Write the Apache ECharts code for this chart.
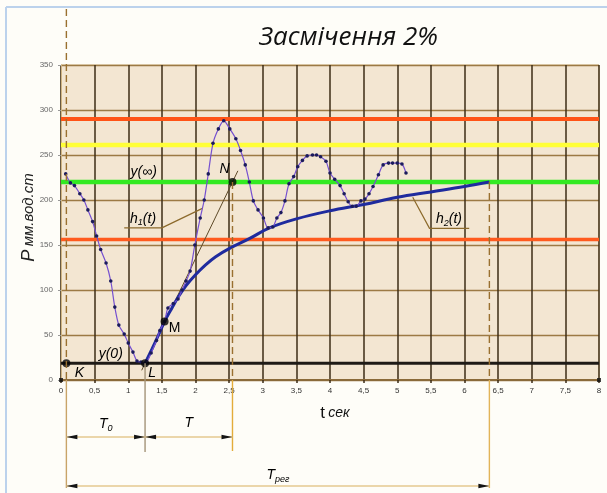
<!DOCTYPE html>
<html>
<head>
<meta charset="utf-8">
<script src="https://cdn.jsdelivr.net/npm/echarts/dist/echarts.min.js"></script>
<style>
  html, body { margin: 0; padding: 0; background: #fefdf8; }
  #c { width: 607px; height: 493px; }
</style>
</head>
<body>
<div id="c"></div>
<script>
// Measured pressure, t (s) and P (мм вод. ст.)
const pressureT = [0.07,0.14,0.20,0.28,0.34,0.40,0.47,0.53,0.59,0.67,0.74,0.80,0.86,0.94,1.00,1.07,1.13,1.19,1.25,
  1.34,1.42,1.47,1.54,1.59,1.67,1.74,1.80,1.86,1.92,1.99,2.07,2.13,2.19,2.26,2.34,2.42,2.51,2.60,2.67,2.74,2.80,
  2.86,2.93,3.01,3.08,3.15,3.21,3.27,3.33,3.39,3.46,3.52,3.59,3.66,3.74,3.80,3.86,3.94,4.00,4.07,4.15,4.21,4.27,
  4.33,4.39,4.46,4.52,4.58,4.64,4.72,4.79,4.87,4.93,5.00,5.07,5.13];
const pressureP = [229,219,216,207,200,189,176,160,145,130,110,81,61,51,41,31,21,20,18.5,
  30,44,55,65,80,85,90,100,110,121,150,180,200,229,263,279,288,279,268,255,239,220,
  199,189,180,169,170,180,186,199,218,226,237,244,249,250,250,248,243,230,223,216,207,198,
  193,193,199,201,207,215,228,239,241,241,241,240,230];

// Approximating transient response h2(t)
const responseT = [1.25,1.35,1.45,1.54,1.65,1.75,1.86,2.0,2.15,2.3,2.5,2.8,3.1,3.5,4.0,4.5,5.0,5.5,6.0,6.37];
const responseP = [18.5,34,50,65,80,93,105,117,128,137,146,157,169,179,188,195,203,209,215,220];

// Horizontal reference levels
const levelValues = [290, 261, 220, 156, 18.5];
const levelColors = ['#ff5316', '#ffff38', '#33ea22', '#ff5a1e', '#1e1a16'];
const levelWidths = [4, 4.5, 4.5, 3.5, 3];

// Key points K, L, M, N
const keyNames = ['K', 'L', 'M', 'N'];
const keyT = [0.08, 1.25, 1.54, 2.55];
const keyP = [18.5, 18.5, 65, 220];

// Axis ticks
const xMin = 0, xMax = 8, xStep = 0.5;
const yMin = 0, yMax = 350, yStep = 50;

const settleT = responseT[responseT.length - 1];
const settleP = responseP[responseP.length - 1];

const pairs = (xs, ys) => xs.map((x, i) => [x, ys[i]]);

const chart = echarts.init(document.getElementById('c'), null, { renderer: 'canvas' });

const FONT = 'Liberation Sans';

const series = [];
levelValues.forEach((v, i) => {
  series.push({
    type: 'line', silent: true, symbol: 'none', z: 3,
    data: [[xMin, v], [xMax, v]],
    lineStyle: { color: levelColors[i], width: levelWidths[i] }
  });
});

// tangent through L and N, drawn slightly past both points
const kL = 1, kN = 3;
const slope = (keyP[kN] - keyP[kL]) / (keyT[kN] - keyT[kL]);
const tanA = keyT[kL] - 0.05, tanB = keyT[kN] + 0.08;
series.push({
  type: 'line', silent: true, symbol: 'none', z: 4,
  data: [[tanA, keyP[kL] + slope * (tanA - keyT[kL])], [tanB, keyP[kL] + slope * (tanB - keyT[kL])]],
  lineStyle: { color: '#5e4a28', width: 1 }
});

// leaders for h1(t) and h2(t)
series.push({
  type: 'line', silent: true, symbol: 'none', z: 4,
  data: [[0.94, 169], [1.5, 169], [2.11, 191]],
  lineStyle: { color: '#8c6a2c', width: 1.2 }
});
series.push({
  type: 'line', silent: true, symbol: 'none', z: 4,
  data: [[5.23, 203], [5.48, 168.5], [6.07, 168.5]],
  lineStyle: { color: '#8c6a2c', width: 1.2 }
});

// h2(t)
series.push({
  type: 'line', silent: true, symbol: 'none', smooth: 0.4, z: 5,
  data: pairs(responseT, responseP),
  lineStyle: { color: '#1f2b9e', width: 3 }
});

// measured pressure
series.push({
  type: 'line', silent: true, smooth: 0.3, z: 6,
  symbol: 'circle', symbolSize: 3.6,
  data: pairs(pressureT, pressureP),
  lineStyle: { color: '#7550d0', width: 1.2 },
  itemStyle: { color: '#1b1b5c' }
});

// key points
series.push({
  type: 'scatter', silent: true, z: 7, symbolSize: 8,
  data: pairs(keyT, keyP),
  itemStyle: { color: '#050505' }
});
// axis end markers
series.push({
  type: 'scatter', silent: true, z: 7, symbol: 'rect', symbolSize: 4,
  data: [[xMin, yMin], [xMax, yMin]],
  itemStyle: { color: '#111' }
});

chart.setOption({
  backgroundColor: '#fefdf8',
  animation: false,
  title: {
    text: 'Засмічення 2%',
    left: 254, top: 20,
    textStyle: { fontFamily: 'Open Sans', fontStyle: 'italic', fontWeight: 'normal', fontSize: 26, color: '#111' }
  },
  grid: {
    left: 61, right: 8, top: 65, bottom: 113,
    show: true, backgroundColor: '#f3e6d2', borderColor: '#d9bf8c', borderWidth: 1
  },
  xAxis: {
    type: 'value', min: xMin, max: xMax, interval: xStep,
    name: '{t|t} {s|сек}', nameLocation: 'middle', nameGap: 25,
    nameTextStyle: { padding: [0, 0, 0, 10], rich: {
      t: { fontFamily: FONT, fontSize: 17, color: '#111' },
      s: { fontFamily: FONT, fontSize: 14, fontStyle: 'italic', color: '#111' }
    } },
    axisLine: { show: true, onZero: false, lineStyle: { color: '#8a6a3a', width: 2 } },
    axisTick: { show: true, length: 3, lineStyle: { color: '#3a2a14', width: 1.5 } },
    axisLabel: { fontFamily: FONT, fontSize: 8, color: '#333', margin: 7,
      formatter: v => String(v).replace('.', ',') },
    splitLine: { show: true, lineStyle: { color: '#3c2c16', width: 1.5 } }
  },
  yAxis: {
    type: 'value', min: yMin, max: yMax, interval: yStep,
    name: '{p|P} {m|мм.вод.ст}', nameLocation: 'middle', nameGap: 23, nameRotate: 90,
    nameMoveOverlap: false,
    nameTextStyle: { padding: [0, 0, 0, 10], rich: {
      p: { fontFamily: FONT, fontSize: 18, fontStyle: 'italic', color: '#222' },
      m: { fontFamily: FONT, fontSize: 15, fontStyle: 'italic', color: '#222' }
    } },
    axisLine: { show: true, lineStyle: { color: '#cfb483', width: 1 } },
    axisTick: { show: true, length: 3, lineStyle: { color: '#999' } },
    axisLabel: { fontFamily: FONT, fontSize: 8, color: '#666', margin: 8 },
    splitLine: { show: true, lineStyle: { color: '#9c7a45', width: 1.3 } }
  },
  series: series
});

// Annotations placed through the chart's coordinate system
const px = (t, p) => chart.convertToPixel({ gridIndex: 0 }, [t, p]);
const axisY = px(0, yMin)[1];
const g = [];

// page frame
g.push({ type: 'line', shape: { x1: 6, y1: 7, x2: 607, y2: 7 }, style: { stroke: '#bcd2ec', lineWidth: 2 }, z: 1 });
g.push({ type: 'line', shape: { x1: 6, y1: 7, x2: 6, y2: 493 }, style: { stroke: '#bcd2ec', lineWidth: 2 }, z: 1 });

const dashed = (x, y1, y2) => g.push({ type: 'line', z: 50, shape: { x1: x, y1: y1, x2: x, y2: y2 },
  style: { stroke: '#9a7030', lineWidth: 1.4, lineDash: [7, 4] } });
const solid = (x, y1, y2, c) => g.push({ type: 'line', z: 50, shape: { x1: x, y1: y1, x2: x, y2: y2 },
  style: { stroke: c, lineWidth: 1.4 } });

const xK = px(keyT[0], 0)[0];
const xL = px(keyT[1], 0)[0];
const xN = px(keyT[3], 0)[0];
const xS = px(settleT, 0)[0];
const dimY1 = 437, dimY2 = 486;

dashed(xK, 9, axisY);
solid(xK, axisY, dimY2 + 2, '#c9a468');
solid(xL, px(keyT[1], keyP[1])[1], dimY1 + 15, '#a39478');
dashed(xN, px(keyT[3], keyP[3])[1], axisY);
solid(xN, axisY, dimY1 + 14, '#e3ac3a');
dashed(xS, px(settleT, settleP)[1], axisY);
solid(xS, axisY, dimY2 + 2, '#e2b458');

const dim = (xa, xb, y) => {
  g.push({ type: 'line', z: 50, shape: { x1: xa, y1: y, x2: xb, y2: y }, style: { stroke: '#e4c890', lineWidth: 1.6 } });
  g.push({ type: 'polygon', z: 51, shape: { points: [[xa, y], [xa + 11, y - 2.3], [xa + 11, y + 2.3]] }, style: { fill: '#141414' } });
  g.push({ type: 'polygon', z: 51, shape: { points: [[xb, y], [xb - 11, y - 2.3], [xb - 11, y + 2.3]] }, style: { fill: '#141414' } });
};
dim(xK, xL, dimY1);
dim(xL, xN, dimY1);
dim(xK, xS, dimY2);

const richBase = {
  i: { fontFamily: FONT, fontStyle: 'italic', fontSize: 14, color: '#1a1a1a' },
  u: { fontFamily: FONT, fontSize: 14, color: '#1a1a1a' },
  s: { fontFamily: FONT, fontStyle: 'italic', fontSize: 9, color: '#1a1a1a', padding: [8, 0, 0, 0] }
};
const label = (x, y, text, align) => g.push({
  type: 'text', z: 60, x: x, y: y,
  style: { text: text, rich: richBase, align: align || 'center', verticalAlign: 'middle' }
});

label((xK + xL) / 2, 424, '{i|T}{s|0}');
label((xL + xN) / 2, 423, '{i|T}');
label((xK + xS) / 2, 475, '{i|T}{s|рег}');

// point and curve labels
const pK = px(keyT[0], keyP[0]), pL = px(keyT[1], keyP[1]), pM = px(keyT[2], keyP[2]), pN = px(keyT[3], keyP[3]);
label(pK[0] + 13, pK[1] + 10, '{i|K}');
label(pL[0] + 7, pL[1] + 10, '{i|L}');
label(pM[0] + 10, pM[1] + 7, '{u|M}');
label(pN[0] - 8, pN[1] - 13, '{i|N}');
const pInf = px(1.23, 220), p0 = px(0.74, 18.5);
label(pInf[0], pInf[1] - 10, '{i|y(∞)}');
label(p0[0], p0[1] - 9, '{i|y(0)}');
const pH1 = px(1.22, 169), pH2 = px(5.77, 168.5);
label(pH1[0], pH1[1] - 9, '{i|h}{s|1}{i|(t)}');
label(pH2[0], pH2[1] - 9, '{i|h}{s|2}{i|(t)}');

chart.setOption({ graphic: g });
</script>
</body>
</html>
